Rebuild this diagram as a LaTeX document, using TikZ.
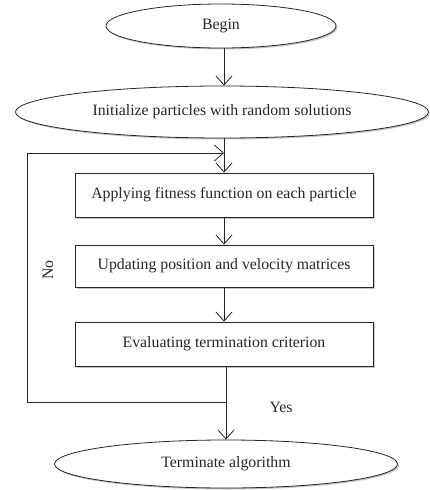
\documentclass[tikz,border=0pt]{standalone}
\usepackage{fontspec}
\setmainfont{Liberation Serif}
\usetikzlibrary{arrows.meta,shapes.geometric,shadows}
\begin{document}
\begin{tikzpicture}[x=1pt,y=-1pt,
  every node/.style={font=\fontsize{15.8}{19}\selectfont, text=black!85},
  shad/.style={drop shadow={shadow xshift=1.5pt, shadow yshift=-1.5pt, fill=black!45, opacity=0.5}},
  term/.style={ellipse, draw=black!85, line width=0.8pt, fill=white, inner sep=0pt, shad},
  procbox/.style={rectangle, draw=black!85, line width=0.8pt, fill=white, inner sep=0pt, minimum width=298pt, shad},
  conn/.style={draw=black!85, line width=0.8pt},
  flow/.style={conn, -{Straight Barb[length=9pt,width=16pt,line width=0.8pt]}}]
\useasboundingbox (0,0) rectangle (429,490);

\node[term, minimum width=230pt, minimum height=44pt] (begin) at (221,26) {Begin};
\node[term, minimum width=413pt, minimum height=52pt] (init) at (222,112) {Initialize particles with random solutions};
\node[procbox, minimum height=44pt] (box1) at (224,195) {Applying fitness function on each particle};
\node[procbox, minimum height=42pt] (box2) at (224,266) {Updating position and velocity matrices};
\node[procbox, minimum height=44pt] (box3) at (224,344) {Evaluating termination criterion};
\node[term, minimum width=343pt, minimum height=48pt] (end) at (226,464) {Terminate algorithm};

\coordinate (join) at (224,153);
\coordinate (split) at (226,402);
\coordinate (lb) at (27,402);
\coordinate (lt) at (27,153);

\draw[flow] (begin.south -| 224,0) -- (init.north -| 224,0);
\draw[flow] (init.south -| box1) -- (box1.north);
\draw[flow] (box1) -- (box2);
\draw[flow] (box2) -- (box3);
\draw[flow] (split |- box3.south) -- (split |- end.north);
\draw[flow] (split) -- (lb) -- (lt) -- (join);

\node[rotate=90] (no) at (48,270) {No};
\node (yes) at (281,407) {Yes};
\end{tikzpicture}
\end{document}
